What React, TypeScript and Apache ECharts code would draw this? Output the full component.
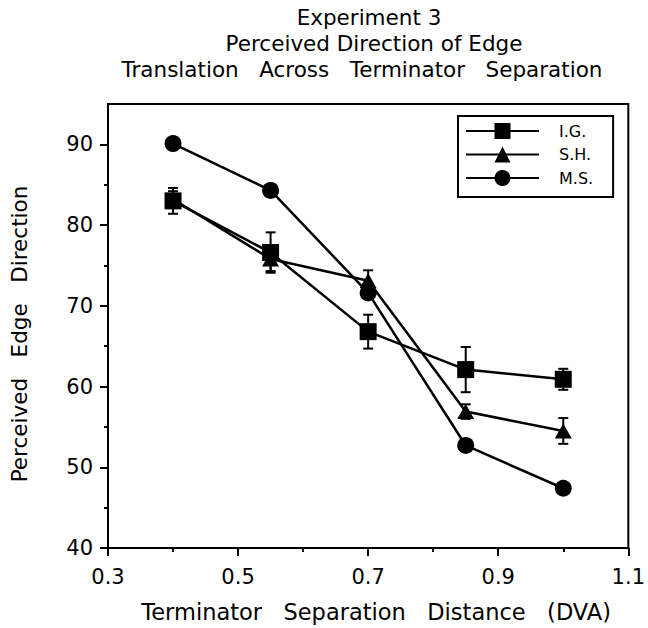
import React, { useEffect, useRef } from "react";
import * as echarts from "echarts";

const xValues = [0.4, 0.55, 0.7, 0.85, 1.0];
const igValues = [83.0, 76.6, 66.8, 62.1, 60.9];
const igErrors = [1.6, 2.5, 2.1, 2.8, 1.3];
const shValues = [83.2, 75.8, 73.1, 56.9, 54.5];
const shErrors = [1.0, 1.5, 1.3, 0.9, 1.6];
const msValues = [90.1, 84.3, 71.6, 52.7, 47.4];

const xMajorTicks = [0.3, 0.5, 0.7, 0.9, 1.1];
const xMinorTicks = [0.4, 0.6, 0.8, 1.0];
const yMajorTicks = [40, 50, 60, 70, 80, 90];
const yMinorTicks = [45, 55, 65, 75, 85];

const titleLines = [
  "Experiment 3",
  "Perceived Direction of Edge",
  "Translation   Across   Terminator   Separation",
];
const titleCenters = [369, 374, 362];
const xName = "Terminator   Separation   Distance   (DVA)";
const yName = "Perceived   Edge   Direction";

const FONT = "'DejaVu Sans', Verdana, sans-serif";

export default function App() {
  const ref = useRef<HTMLDivElement>(null);
  useEffect(() => {
    if (!ref.current) return;
    const chart = echarts.init(ref.current, null, { renderer: "svg" });
    const pts = (ys: number[]) => xValues.map((x, i) => [x, ys[i]]);
    const errPts = (ys: number[], es: number[]) => xValues.map((x, i) => [x, ys[i], es[i]]);
    const errRender = (params: any, api: any) => {
      const x = api.value(0);
      const y = api.value(1);
      const e = api.value(2);
      const top = api.coord([x, y + e]);
      const bot = api.coord([x, y - e]);
      const w = 5;
      const st = { stroke: "#000", lineWidth: 2 };
      return {
        type: "group",
        children: [
          { type: "line", shape: { x1: top[0], y1: top[1], x2: bot[0], y2: bot[1] }, style: st },
          { type: "line", shape: { x1: top[0] - w, y1: top[1], x2: top[0] + w, y2: top[1] }, style: st },
          { type: "line", shape: { x1: bot[0] - w, y1: bot[1], x2: bot[0] + w, y2: bot[1] }, style: st },
        ],
      };
    };
    const lineBase = {
      type: "line",
      symbolSize: 17,
      lineStyle: { color: "#000", width: 2.5 },
      itemStyle: { color: "#000" },
      z: 3,
    };
    const axisCommon = {
      type: "value",
      splitLine: { show: false },
      axisLine: { show: true, lineStyle: { color: "#000", width: 2 } },
    };
    chart.setOption({
      animation: false,
      backgroundColor: "#fff",
      textStyle: { fontFamily: FONT, color: "#000" },
      grid: {
        left: 107.5,
        right: 17.5,
        top: 104,
        bottom: 77,
        show: true,
        borderColor: "#000",
        borderWidth: 2,
      },
      graphic: titleLines.map((t, i) => ({
        type: "text",
        x: titleCenters[i],
        y: 17 + i * 26,
        style: {
          text: t,
          fill: "#000",
          font: `21.5px ${FONT}`,
          textAlign: "center",
          textVerticalAlign: "middle",
        },
      })),
      legend: {
        orient: "vertical",
        left: 458,
        top: 116,
        padding: [7, 20, 11, 7],
        itemWidth: 73,
        itemHeight: 20,
        itemGap: 7.5,
        borderColor: "#000",
        borderWidth: 2,
        textStyle: { fontSize: 16, color: "#000", fontFamily: FONT, padding: [0, 0, 0, 15] },
        data: ["I.G.", "S.H.", "M.S."],
      },
      xAxis: [
        {
          ...axisCommon,
          min: 0.3,
          max: 1.1,
          name: xName,
          nameLocation: "middle",
          nameGap: 52,
          nameTextStyle: { fontSize: 22.5, color: "#000", fontFamily: FONT, padding: [0, 0, 0, 16] },
          axisTick: { show: true, length: 8, lineStyle: { color: "#000", width: 2 }, customValues: xMajorTicks },
          axisLabel: { show: true, margin: 18, fontSize: 21, color: "#000", fontFamily: FONT, customValues: xMajorTicks, formatter: (v: number) => v.toFixed(1) },
        },
        {
          ...axisCommon,
          position: "bottom",
          min: 0.3,
          max: 1.1,
          axisLine: { show: false },
          axisTick: { show: true, length: 4, lineStyle: { color: "#000", width: 2 }, customValues: xMinorTicks },
          axisLabel: { show: false },
        },
      ],
      yAxis: [
        {
          ...axisCommon,
          min: 40,
          max: 95,
          name: yName,
          nameLocation: "middle",
          nameGap: 78,
          nameTextStyle: { fontSize: 21.5, color: "#000", fontFamily: FONT, padding: [0, 16, 0, 0] },
          axisTick: { show: true, length: 8, lineStyle: { color: "#000", width: 2 }, customValues: yMajorTicks },
          axisLabel: { show: true, margin: 15, fontSize: 21, color: "#000", fontFamily: FONT, customValues: yMajorTicks },
        },
        {
          ...axisCommon,
          position: "left",
          min: 40,
          max: 95,
          axisLine: { show: false },
          axisTick: { show: true, length: 4, lineStyle: { color: "#000", width: 2 }, customValues: yMinorTicks },
          axisLabel: { show: false },
        },
      ],
      series: [
        { type: "custom", renderItem: errRender, data: errPts(igValues, igErrors), z: 2, silent: true, encode: { x: 0, y: 1 } },
        { type: "custom", renderItem: errRender, data: errPts(shValues, shErrors), z: 2, silent: true, encode: { x: 0, y: 1 } },
        { ...lineBase, name: "I.G.", symbol: "rect", data: pts(igValues) },
        { ...lineBase, name: "S.H.", symbol: "triangle", symbolSize: [17, 15], data: pts(shValues) },
        { ...lineBase, name: "M.S.", symbol: "circle", data: pts(msValues) },
      ],
    });
    return () => chart.dispose();
  }, []);
  return (
    <div
      ref={ref}
      style={{ position: "absolute", left: 0, top: 0, width: 648, height: 628 }}
    />
  );
}
